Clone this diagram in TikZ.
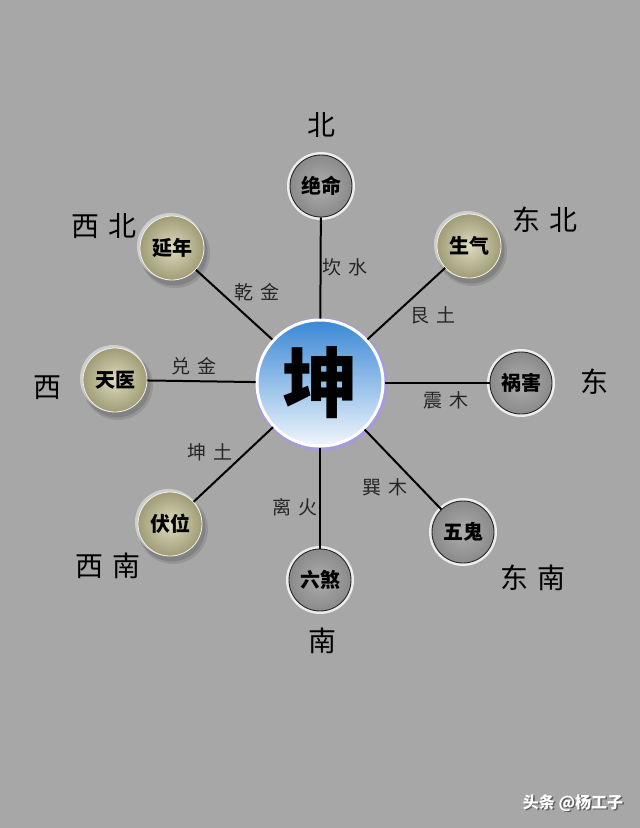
\documentclass[tikz,border=0pt]{standalone}
\usepackage{fontspec}
\setmainfont{Noto Sans CJK SC}
\newfontfamily\cjk{Noto Sans CJK SC}
\definecolor{bg}{HTML}{A7A7A7}
\definecolor{gin}{HTML}{ADADAD}
\definecolor{gout}{HTML}{8A8A8A}
\definecolor{oin}{HTML}{DEDBBE}
\definecolor{oout}{HTML}{A09C76}
\definecolor{btop}{HTML}{3A88D6}
\definecolor{bbot}{HTML}{F0F6FC}
\definecolor{rim}{HTML}{A49CD8}
\begin{document}
\begin{tikzpicture}[x=1pt,y=-1pt,
  graybtn/.style={circle, minimum size=62pt, inner sep=0pt, draw=black!85, line width=0.9pt,
    inner color=gin, outer color=gout, font=\cjk\fontsize{20}{20}\selectfont\bfseries},
  olivebtn/.style={circle, minimum size=64pt, inner sep=0pt, draw=white!85!oout, line width=0.8pt,
    inner color=oin, outer color=oout, font=\cjk\fontsize{20}{20}\selectfont\bfseries},
  dirlab/.style={font=\cjk\fontsize{28}{28}\selectfont, text=black},
  linelab/.style={font=\cjk\fontsize{19}{19}\selectfont, text=black!85},
  spoke/.style={line width=2pt, black}]
\useasboundingbox (0,0) rectangle (640,828);
\fill[bg] (0,0) rectangle (640,828);
% halos of gray buttons
\foreach \p in {(321,186),(521,383),(463,532),(320,580)}{
  \fill[white!80!bg] \p circle (34);
}
% shadows of olive buttons
\foreach \p in {(469,246),(172,248),(115,380),(170,524)}{
  \fill[black, opacity=0.10] \p ++(3,5) circle (35);
  \fill[black, opacity=0.12] \p ++(2,4) circle (33.5);
  \fill[white, opacity=0.45] \p ++(-1.5,-1.5) circle (33.5);
}
% center rim
\fill[rim] (320,383) ++(1,1.5) circle (66.5);
\node[circle, minimum size=126pt, inner sep=0pt, draw=white, line width=3pt,
  top color=btop, bottom color=bbot,
  font=\cjk\fontsize{76}{76}\selectfont\bfseries] (c) at (320,383) {坤};
% buttons
\node[graybtn] (jm) at (321,186) {绝命};
\node[olivebtn] (sq) at (469,246) {生气};
\node[graybtn] (hh) at (521,383) {祸害};
\node[graybtn] (wg) at (463,532) {五鬼};
\node[graybtn] (ls) at (320,580) {六煞};
\node[olivebtn] (fw) at (170,524) {伏位};
\node[olivebtn] (ty) at (115,380) {天医};
\node[olivebtn] (yn) at (172,248) {延年};
% spokes
\draw[spoke] (c) -- (jm);
\draw[spoke] (c) -- (sq);
\draw[spoke] (c) -- (hh);
\draw[spoke] (c) -- (wg);
\draw[spoke] (c) -- (ls);
\draw[spoke] (c) -- (fw);
\draw[spoke] (c) -- (ty);
\draw[spoke] (c) -- (yn);
% line labels
\node[linelab] (l1) at (345,267) {坎\hspace{7pt}水};
\node[linelab] (l2) at (433,315) {艮\hspace{7pt}土};
\node[linelab] (l3) at (446,400) {震\hspace{7pt}木};
\node[linelab] (l4) at (385,487) {巽\hspace{7pt}木};
\node[linelab] (l5) at (295,507) {离\hspace{7pt}火};
\node[linelab] (l6) at (210,452) {坤\hspace{7pt}土};
\node[linelab] (l7) at (194,366) {兑\hspace{7pt}金};
\node[linelab] (l8) at (257,292) {乾\hspace{7pt}金};
% direction labels
\node[dirlab] (d1) at (321,125) {北};
\node[dirlab] (d2) at (545,220) {东\hspace{9pt}北};
\node[dirlab] (d3) at (594,382) {东};
\node[dirlab] (d4) at (533,578) {东\hspace{9pt}南};
\node[dirlab] (d5) at (322,641) {南};
\node[dirlab] (d6) at (108,566) {西\hspace{9pt}南};
\node[dirlab] (d7) at (47,388) {西};
\node[dirlab] (d8) at (104,226) {西\hspace{9pt}北};
% watermark
\node[font=\cjk\fontsize{16}{16}\selectfont\bfseries, text=black, opacity=0.45] at (574.5,804.5) {头条 @杨工子};
\node[font=\cjk\fontsize{16}{16}\selectfont\bfseries, text=white] (wm) at (573,803) {头条 @杨工子};
\end{tikzpicture}
\end{document}
